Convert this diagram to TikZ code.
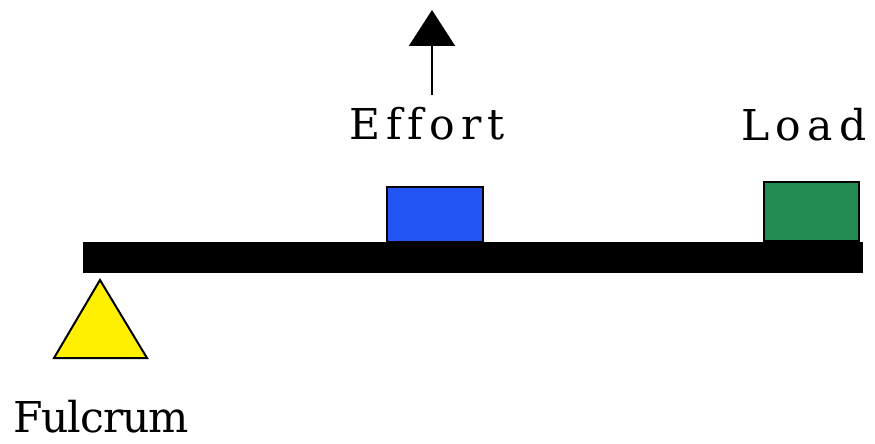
\documentclass[tikz,border=0pt]{standalone}
\usepackage{fontspec}
\newfontfamily\lblfont[Ligatures=NoCommon]{DejaVu Serif}
\usetikzlibrary{arrows.meta}
\definecolor{effblue}{RGB}{35,85,245}
\definecolor{loadgreen}{RGB}{34,140,82}
\definecolor{fulyellow}{RGB}{255,240,0}
\tikzset{
  lbl/.style={inner sep=0pt, anchor=base west, font=\fontsize{42.5}{46}\selectfont\lblfont},
  box/.style={draw=black, line width=2pt},
}
\begin{document}
\begin{tikzpicture}[x=1pt,y=-1pt]
\useasboundingbox (0,0) rectangle (875,444);
% beam
\fill[black] (83,242) rectangle (863,273);
% boxes
\node[box, fill=effblue, minimum width=96pt, minimum height=55pt, inner sep=0pt, anchor=south west] (effortbox) at (386,243) {};
\node[box, fill=loadgreen, minimum width=95pt, minimum height=59pt, inner sep=0pt, anchor=south west] (loadbox) at (763,242) {};
% fulcrum
\draw[line width=2pt, fill=fulyellow, line join=miter] (100,280) coordinate (apex) -- (147,358) -- (54,358) -- cycle;
% labels
\node[lbl] (effort) at (349,139) {\addfontfeatures{LetterSpace=14}Effort};
\node[lbl] (load) at (741,140) {\addfontfeatures{LetterSpace=15}Load};
\node[lbl] (fulcrum) at (13,432) {\addfontfeatures{LetterSpace=-2.5}Fulcrum};
% effort arrow
\coordinate (arrowstart) at (432,95);
\coordinate (arrowtip) at (432,10);
\draw[line width=2pt, -{Triangle[length=36pt, width=46pt]}] (arrowstart) -- (arrowtip);
\end{tikzpicture}
\end{document}
